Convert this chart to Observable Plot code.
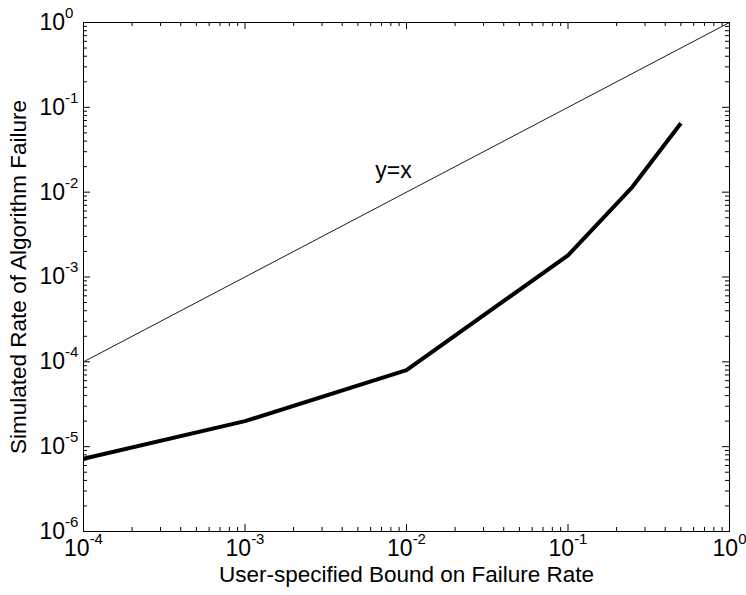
<!DOCTYPE html>
<html><head><meta charset="utf-8">
<script src="https://cdn.jsdelivr.net/npm/d3@7"></script>
<script src="https://cdn.jsdelivr.net/npm/@observablehq/plot@0.6"></script>
<style>body{margin:0;background:#fff} svg{display:block}</style>
</head><body><div id="chart"></div>
<script>
// Data
const boundX = [1e-4, 1e-3, 1e-2, 1e-1, 0.25, 0.5];
const failY = [7.2e-6, 2.0e-5, 8.0e-5, 1.8e-3, 1.15e-2, 6.5e-2];
const refX = [1e-4, 1];
const refY = [1e-4, 1];
const xTickValues = [1e-4, 1e-3, 1e-2, 1e-1, 1];
const xTickLabels = ["10^-4", "10^-3", "10^-2", "10^-1", "10^0"];
const yTickValues = [1e-6, 1e-5, 1e-4, 1e-3, 1e-2, 1e-1, 1];
const yTickLabels = ["10^-6", "10^-5", "10^-4", "10^-3", "10^-2", "10^-1", "10^0"];
const noteX = [0.0083];
const noteY = [0.018];
const noteText = ["y=x"];
const xTitle = "User-specified Bound on Failure Rate";
const yTitle = "Simulated Rate of Algorithm Failure";

const curve = boundX.map((x, i) => ({x, y: failY[i]}));
const ref = refX.map((x, i) => ({x, y: refY[i]}));
const note = noteX.map((x, i) => ({x, y: noteY[i], t: noteText[i]}));

function minors(majors) {
  const out = [];
  for (let i = 0; i < majors.length - 1; i++)
    for (let k = 2; k <= 9; k++) out.push(majors[i] * k);
  return out;
}
const xMinor = minors(xTickValues);
const yMinor = minors(yTickValues);

const W = 746, H = 595, ML = 83, MR = 17, MT = 22, MB = 64;
const PW = W - ML - MR, PH = H - MT - MB;

function xticks(data, len) {
  return [
    Plot.tickX(data, {x: d => d, insetTop: PH - len, stroke: "black"}),
    Plot.tickX(data, {x: d => d, insetBottom: PH - len, stroke: "black"})
  ];
}
function yticks(data, len) {
  return [
    Plot.tickY(data, {y: d => d, insetRight: PW - len, stroke: "black"}),
    Plot.tickY(data, {y: d => d, insetLeft: PW - len, stroke: "black"})
  ];
}

const FS = 23, TFS = 22.5;
const font = "'Liberation Sans', Arial, Helvetica, sans-serif";
const chart = Plot.plot({
  width: W,
  height: H,
  marginLeft: ML,
  marginRight: MR,
  marginTop: MT,
  marginBottom: MB,
  style: {fontFamily: font, background: "white"},
  x: {type: "log", domain: [1e-4, 1], axis: null},
  y: {type: "log", domain: [1e-6, 1], axis: null},
  marks: [
    Plot.line(ref, {x: "x", y: "y", stroke: "black", strokeWidth: 0.9}),
    Plot.line(curve, {x: "x", y: "y", stroke: "black", strokeWidth: 4, strokeLinejoin: "miter", strokeLinecap: "butt"}),
    Plot.text(note, {x: "x", y: "y", text: "t", fontSize: FS, fill: "black"}),
    xticks(xTickValues, 7), xticks(xMinor, 4),
    yticks(yTickValues, 7), yticks(yMinor, 4),
    Plot.frame({stroke: "black", strokeWidth: 1}),
    Plot.text(xTickValues, {x: d => d, text: (d, i) => xTickLabels[i], frameAnchor: "bottom", dy: 24.5, fontSize: FS, textAnchor: "middle"}),
    Plot.text(yTickValues, {y: d => d, text: (d, i) => yTickLabels[i], frameAnchor: "left", dx: -44, dy: 0, fontSize: FS, textAnchor: "start"}),
    Plot.text([xTitle], {text: d => d, frameAnchor: "bottom", dy: 50.5, fontSize: TFS, textAnchor: "middle"}),
    Plot.text([yTitle], {text: d => d, frameAnchor: "left", dx: -64.5, rotate: -90, fontSize: TFS, textAnchor: "middle"})
  ]
});

d3.select(chart).selectAll("text").each(function() {
  if (this.childElementCount || !this.textContent.includes("^")) return;
  const [base, exp] = this.textContent.split("^");
  const t = d3.select(this);
  t.text(null);
  t.append("tspan").text(base);
  t.append("tspan").attr("dy", -12).attr("font-size", 15).text(exp);
});

document.getElementById("chart").appendChild(chart);
</script>
</body></html>
